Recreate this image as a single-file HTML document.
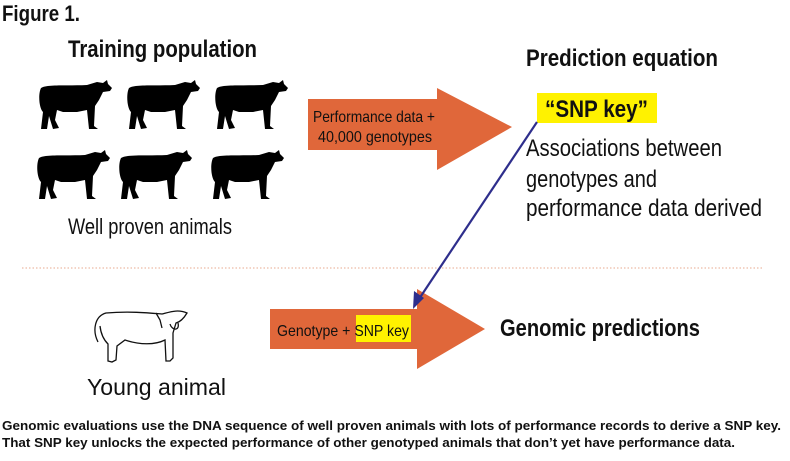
<!DOCTYPE html>
<html><head><meta charset="utf-8"><style>
html,body{margin:0;padding:0;background:#fff;}
svg{display:block;}
text{font-family:"Liberation Sans Narrow","Liberation Sans",sans-serif;fill:#111;}
</style></head><body>
<svg width="790" height="461" viewBox="0 0 790 461" xmlns="http://www.w3.org/2000/svg">
<defs>
<path id="cow" d="M4,8 C10,4 30,6 50,5 L60,2 L66,3 L70,0 L71,4 L75,8 L73,11 L66,12 L62,20 L58,26 L57,46 L61,49 L52,49 L50,30 L40,32 L26,32 L20,30 L18,40 L22,48 L16,49 L12,36 L10,49 L4,49 L6,32 C2,28 1,14 4,8 Z" fill="#000"/>
</defs>
<text x="2" y="21" font-size="22" font-weight="bold" textLength="78" lengthAdjust="spacingAndGlyphs">Figure 1.</text>
<text x="68" y="57" font-size="24" font-weight="bold" textLength="189" lengthAdjust="spacingAndGlyphs">Training population</text>
<use href="#cow" x="37" y="80"/>
<use href="#cow" x="125" y="80"/>
<use href="#cow" x="213" y="80"/>
<use href="#cow" x="35" y="150"/>
<use href="#cow" x="117" y="150"/>
<use href="#cow" x="209" y="150"/>
<text x="68" y="234" font-size="22" textLength="164" lengthAdjust="spacingAndGlyphs">Well proven animals</text>

<polygon points="308,99 437,99 437,88 512,127 437,170 437,150 308,150" fill="#e0673a"/>
<text x="313" y="122" font-size="16" textLength="122" lengthAdjust="spacingAndGlyphs">Performance data +</text>
<text x="318" y="142" font-size="16" textLength="114" lengthAdjust="spacingAndGlyphs">40,000 genotypes</text>

<text x="526" y="66" font-size="24" font-weight="bold" textLength="192" lengthAdjust="spacingAndGlyphs">Prediction equation</text>
<rect x="537" y="93" width="120" height="30" fill="#fff200"/>
<text x="545" y="117" font-size="24" font-weight="bold" textLength="103" lengthAdjust="spacingAndGlyphs">“SNP key”</text>
<text x="526" y="156" font-size="24" textLength="196" lengthAdjust="spacingAndGlyphs">Associations between</text>
<text x="526" y="187" font-size="24" textLength="131" lengthAdjust="spacingAndGlyphs">genotypes and</text>
<text x="526" y="216" font-size="24" textLength="236" lengthAdjust="spacingAndGlyphs">performance data derived</text>

<line x1="22" y1="268" x2="762" y2="268" stroke="#e8a98f" stroke-width="1" stroke-dasharray="1.5,2"/>

<polygon points="270,309 417,309 417,289 485,329 417,369 417,349 270,349" fill="#e0673a"/>
<rect x="356" y="315" width="55" height="27" fill="#fff200"/>
<text x="277" y="336" font-size="16" textLength="132" lengthAdjust="spacingAndGlyphs">Genotype + SNP key</text>

<line x1="537" y1="122" x2="419" y2="299" stroke="#2e2e8c" stroke-width="2.2"/>
<polygon points="413,309 414,291 424,298" fill="#2e2e8c"/>

<text x="500" y="336" font-size="24" font-weight="bold" textLength="200" lengthAdjust="spacingAndGlyphs">Genomic predictions</text>

<g fill="none" stroke="#111" stroke-width="1.3">
<path d="M98,342 C92,330 95,316 106,313 C130,311 150,313 162,314 C170,312 178,309 187,313 C184,318 180,322 176,323 L173,333 L173,358 L170,361 L166,361 L165,340 C155,345 140,345 125,340 L117,346 L116,360 L112,362 L108,361 L108,344 C104,340 101,335 100,326"/>
<path d="M156,313 L160,320 L162,328 M170,324 C172,331 180,331 178,323"/>
</g>
<text x="87" y="395" font-size="23" textLength="139" lengthAdjust="spacingAndGlyphs">Young animal</text>

<text x="2" y="430" font-size="13" font-weight="bold" font-family="Liberation Sans" textLength="779" lengthAdjust="spacingAndGlyphs">Genomic evaluations use the DNA sequence of well proven animals with lots of performance records to derive a SNP key.</text>
<text x="2" y="447" font-size="13" font-weight="bold" font-family="Liberation Sans" textLength="733" lengthAdjust="spacingAndGlyphs">That SNP key unlocks the expected performance of other genotyped animals that don’t yet have performance data.</text>
</svg>
</body></html>
